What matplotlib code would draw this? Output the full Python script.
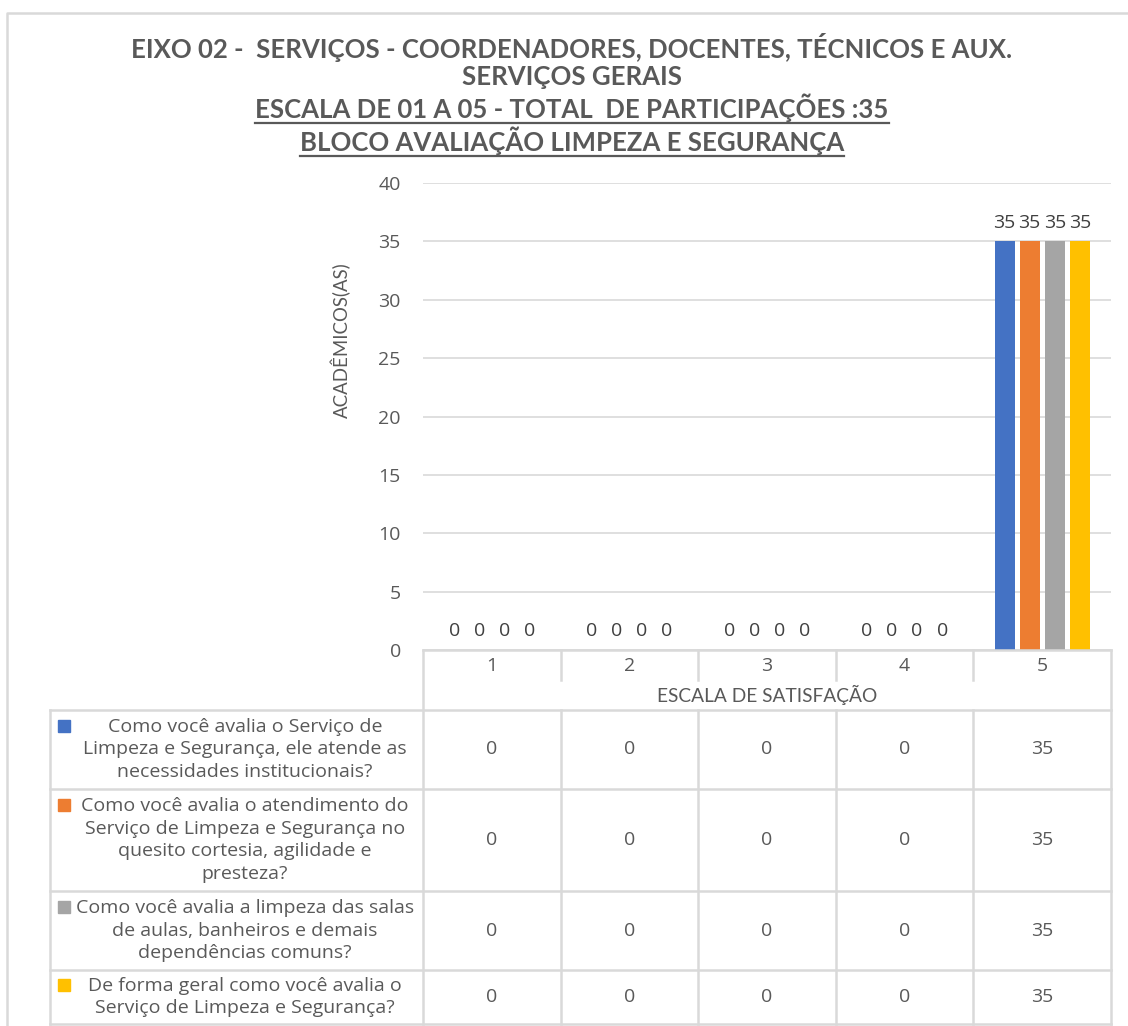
import matplotlib
matplotlib.use("Agg")
import matplotlib.pyplot as plt
from matplotlib.lines import Line2D
from matplotlib.patches import Rectangle
from matplotlib.transforms import blended_transform_factory
import numpy as np

# ---------------- data ----------------
categories = ["1", "2", "3", "4", "5"]
series_labels = [
    "Como você avalia o Serviço de\nLimpeza e Segurança, ele atende as\nnecessidades institucionais?",
    "Como você avalia o atendimento do\nServiço de Limpeza e Segurança no\nquesito cortesia, agilidade e\npresteza?",
    "Como você avalia a limpeza das salas\nde aulas, banheiros e demais\ndependências comuns?",
    "De forma geral como você avalia o\nServiço de Limpeza e Segurança?",
]
serie1 = [0, 0, 0, 0, 35]
serie2 = [0, 0, 0, 0, 35]
serie3 = [0, 0, 0, 0, 35]
serie4 = [0, 0, 0, 0, 35]
series_values = [serie1, serie2, serie3, serie4]
colors = ["#4472C4", "#ED7D31", "#A5A5A5", "#FFC000"]
title_lines = [
    "EIXO 02 -  SERVIÇOS - COORDENADORES, DOCENTES, TÉCNICOS E AUX.",
    "SERVIÇOS GERAIS",
    "ESCALA DE 01 A 05 - TOTAL  DE PARTICIPAÇÕES :35",
    "BLOCO AVALIAÇÃO LIMPEZA E SEGURANÇA",
]
y_label = "ACADÊMICOS(AS)"
x_label = "ESCALA DE SATISFAÇÃO"

# ---------------- layout ----------------
W, H = 1128, 1026
fig = plt.figure(figsize=(W / 100, H / 100), dpi=100)

def fx(px):
    return px / W

def fy(py):
    return 1 - py / H

TXT = "#595959"
GRID = "#d9d9d9"
cond = ["Lato", "DejaVu Sans"]
body = ["Open Sans", "DejaVu Sans"]
BODY_FS = 14

ax_left, ax_right, ax_top, ax_bottom = 423, 1111, 183, 650
ax = fig.add_axes([fx(ax_left), fy(ax_bottom), fx(ax_right - ax_left), (ax_bottom - ax_top) / H])

n = len(series_values)
x = np.arange(len(categories))
slot = 0.182
bw = 0.146
for i, (vals, c) in enumerate(zip(series_values, colors)):
    pos = x + (i - (n - 1) / 2) * slot
    bars = ax.bar(pos, vals, width=bw, color=c, zorder=3)
    for b, v in zip(bars, vals):
        ax.annotate(str(v), (b.get_x() + b.get_width() / 2, v), xytext=(0, 7),
                    textcoords="offset points", ha="center", va="bottom",
                    fontsize=BODY_FS, color="#404040", family=body)

ax.set_xlim(-0.5, len(categories) - 0.5)
ax.set_ylim(0, 40)
ax.set_yticks(range(0, 41, 5))
ax.yaxis.grid(True, color=GRID, linewidth=1.2, zorder=0)
ax.set_axisbelow(True)
ax.set_xticks([])
ax.tick_params(axis="y", length=0, pad=16, labelsize=BODY_FS, labelcolor=TXT)
for t in ax.get_yticklabels():
    t.set_family(body)
for s in ax.spines.values():
    s.set_visible(False)

# ---------------- table ----------------
tr = blended_transform_factory(ax.transData, fig.transFigure)
lc = GRID
lw = 1.8

def hline(x0px, x1px, ypx):
    fig.add_artist(Line2D([fx(x0px), fx(x1px)], [fy(ypx), fy(ypx)], color=lc, lw=lw))

def vline_data(xd, y0px, y1px):
    fig.add_artist(Line2D([xd, xd], [fy(y0px), fy(y1px)], color=lc, lw=lw, transform=tr))

tbl_left = 50
hdr_top, hdr_mid, hdr_bot = 650, 680, 710
row_edges = [710, 789, 891, 970, 1024]

hline(ax_left, ax_right, hdr_top)
hline(tbl_left, ax_right, hdr_bot)
for ye in row_edges[1:]:
    hline(tbl_left, ax_right, ye)
vline_data(-0.5, hdr_top, row_edges[-1])
vline_data(len(categories) - 0.5, hdr_top, row_edges[-1])
for k in range(1, len(categories)):
    vline_data(k - 0.5, hdr_top, hdr_mid)
    vline_data(k - 0.5, hdr_bot, row_edges[-1])
fig.add_artist(Line2D([fx(tbl_left), fx(tbl_left)], [fy(hdr_bot), fy(row_edges[-1])], color=lc, lw=lw))

for k, c in enumerate(categories):
    fig.text(0, fy(666), c, transform=tr, ha="center", va="center", fontsize=BODY_FS,
             color=TXT, family=body).set_x(k)
fig.text(0, fy(695), x_label, transform=tr, ha="center", va="center", fontsize=13.8,
         color=TXT, family=cond).set_x((len(categories) - 1) / 2)

for i in range(n):
    y0, y1 = row_edges[i], row_edges[i + 1]
    yc = (y0 + y1) / 2
    nlines = series_labels[i].count("\n") + 1
    fig.text(fx(245), fy(yc), series_labels[i], ha="center", va="center", fontsize=BODY_FS,
             color=TXT, family=body, linespacing=1.31)
    first_line_y = yc - (nlines - 1) / 2 * 23.5
    fig.add_artist(Rectangle((fx(58), fy(first_line_y + 6)), fx(12), 12 / H,
                             color=colors[i], transform=fig.transFigure))
    for k, v in enumerate(series_values[i]):
        fig.text(0, fy(yc), str(v), transform=tr, ha="center", va="center", fontsize=BODY_FS,
                 color=TXT, family=body).set_x(k)

# ---------------- axis title ----------------
fig.text(fx(341), fy(340), y_label, rotation=90, ha="center", va="center", fontsize=13.4,
         color=TXT, family=cond)

# ---------------- title ----------------
title_y = [47, 77, 108, 141]
tts = []
for line, yy in zip(title_lines, title_y):
    tts.append(fig.text(fx(572), fy(yy), line, ha="center", va="center", fontsize=18.5,
                        fontweight="bold", color=TXT, family=cond))

# outer frame
fig.add_artist(Line2D([fx(7), fx(7), fx(W)], [fy(H), fy(13), fy(13)], color=GRID, lw=1.8))

fig.canvas.draw()
r = fig.canvas.get_renderer()
for t in tts[2:]:
    bb = t.get_window_extent(r)
    yline = bb.y0 - 1
    fig.add_artist(Line2D([bb.x0 / W, bb.x1 / W], [yline / H, yline / H], color=TXT, lw=1.6))

fig.savefig("out.png", dpi=100)
